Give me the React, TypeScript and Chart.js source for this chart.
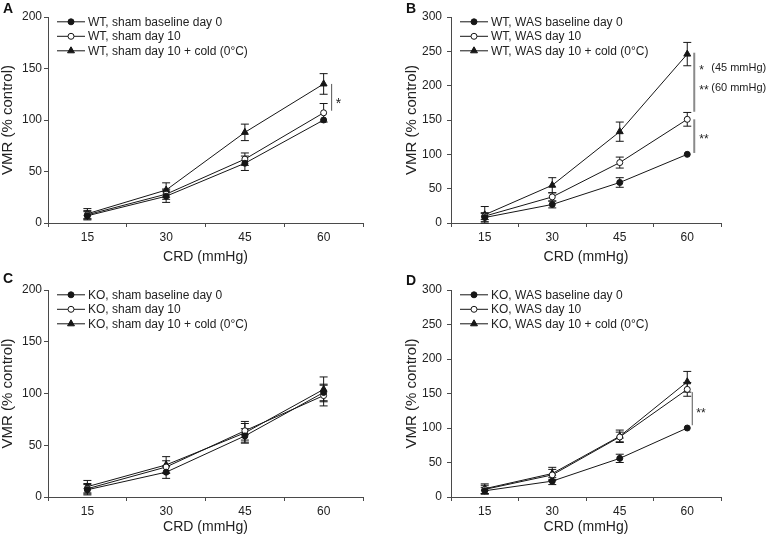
import React, { useEffect, useRef } from 'react';
import { Chart, registerables } from 'chart.js';

Chart.register(...registerables);

// ---------- data ----------
const categories = ['15', '30', '45', '60'];

const labelsA = ['WT, sham baseline day 0', 'WT, sham day 10', 'WT, sham day 10 + cold (0°C)'];
const baselineA = [7, 26, 58, 100];
const baselineErrA = [4, 6, 7, 0];
const day10A = [8, 28, 62, 107];
const day10ErrA = [4, 5, 6, 9];
const coldA = [9, 32, 88, 135];
const coldErrA = [5, 7, 8, 10];

const labelsB = ['WT, WAS baseline day 0', 'WT, WAS day 10', 'WT, WAS day 10 + cold (0°C)'];
const baselineB = [8, 27, 59, 100];
const baselineErrB = [6, 5, 7, 0];
const day10B = [10, 38, 88, 151];
const day10ErrB = [5, 6, 8, 10];
const coldB = [12, 55, 133, 246];
const coldErrB = [12, 11, 14, 17];

const labelsC = ['KO, sham baseline day 0', 'KO, sham day 10', 'KO, sham day 10 + cold (0°C)'];
const baselineC = [7, 24, 59, 101];
const baselineErrC = [5, 6, 7, 8];
const day10C = [8, 29, 64, 98];
const day10ErrC = [5, 6, 9, 10];
const coldC = [10, 31, 62, 104];
const coldErrC = [6, 8, 9, 12];

const labelsD = ['KO, WAS baseline day 0', 'KO, WAS day 10', 'KO, WAS day 10 + cold (0°C)'];
const baselineD = [9, 23, 56, 100];
const baselineErrD = [5, 5, 6, 0];
const day10D = [11, 32, 87, 156];
const day10ErrD = [6, 8, 7, 10];
const coldD = [12, 34, 88, 167];
const coldErrD = [7, 9, 9, 15];

// significance brackets (value ranges on y) and their marks
const bracketsA = [{ from: 109, to: 135 }];
const notesA = [{ value: 119, stars: '*', note: '' }];
const bracketsB = [{ from: 162, to: 248 }, { from: 102, to: 151 }];
const notesB = [
  { value: 227, stars: '*', note: '(45 mmHg)' },
  { value: 198, stars: '**', note: '(60 mmHg)' },
  { value: 127, stars: '**', note: '' },
];
const bracketsC: { from: number; to: number }[] = [];
const notesC: { value: number; stars: string; note: string }[] = [];
const bracketsD = [{ from: 104, to: 152 }];
const notesD = [{ value: 126, stars: '**', note: '' }];

const yTicksSmall = [0, 50, 100, 150, 200];
const yTicksLarge = [0, 50, 100, 150, 200, 250, 300];

// ---------- styling ----------
const FONT = '"Liberation Sans", Arial, Helvetica, sans-serif';
const INK = '#161616';
const AXIS = '#4a4a4a';
const TEXT = '#222';
const MARKERS = ['filled', 'open', 'triangle'];

type Series = { label: string; values: number[]; err: number[] };
type PanelCfg = {
  letter: string;
  left: number;
  top: number;
  width: number;
  height: number;
  area: { l: number; r: number; t: number; b: number };
  yTicks: number[];
  yTitlePad: number;
  yTickPad: number;
  xTitlePad: number;
  letterPos: [number, number];
  series: Series[];
  brackets: { from: number; to: number }[];
  notes: { value: number; stars: string; note: string }[];
  bracketStyle: { color: string; width: number; lineDx: number; starDx: number; noteDx: number; starSize: number };
};

function drawMarker(ctx: CanvasRenderingContext2D, kind: string, x: number, y: number) {
  ctx.save();
  ctx.lineWidth = 1;
  ctx.strokeStyle = INK;
  ctx.beginPath();
  if (kind === 'triangle') {
    const r = 4;
    ctx.moveTo(x, y - r);
    ctx.lineTo(x + 0.866 * r, y + 0.5 * r);
    ctx.lineTo(x - 0.866 * r, y + 0.5 * r);
    ctx.closePath();
    ctx.fillStyle = INK;
  } else {
    ctx.arc(x, y, 3, 0, Math.PI * 2);
    ctx.fillStyle = kind === 'open' ? '#fff' : INK;
  }
  ctx.fill();
  ctx.stroke();
  ctx.restore();
}

function makePlugin(cfg: PanelCfg) {
  return {
    id: 'panelExtras',
    beforeDatasetsDraw(chart: any) {
      const ctx: CanvasRenderingContext2D = chart.ctx;
      const ys = chart.scales.y;
      ctx.save();
      ctx.strokeStyle = INK;
      ctx.lineWidth = 1;
      cfg.series.forEach((s, i) => {
        const meta = chart.getDatasetMeta(i);
        s.err.forEach((e, j) => {
          if (!e) return;
          const pt = meta.data[j];
          const x = pt.x;
          const yt = ys.getPixelForValue(s.values[j] + e);
          const yb = ys.getPixelForValue(s.values[j] - e);
          ctx.beginPath();
          ctx.moveTo(x, yt);
          ctx.lineTo(x, yb);
          ctx.moveTo(x - 4, yt);
          ctx.lineTo(x + 4, yt);
          ctx.moveTo(x - 4, yb);
          ctx.lineTo(x + 4, yb);
          ctx.stroke();
        });
      });
      ctx.restore();
    },
    afterDraw(chart: any) {
      const ctx: CanvasRenderingContext2D = chart.ctx;
      const area = chart.chartArea;
      const ys = chart.scales.y;
      const xs = chart.scales.x;
      // legend
      ctx.save();
      cfg.series.forEach((s, i) => {
        const y = area.top + 4.8 + i * 14.5;
        const x0 = area.left + 9;
        ctx.strokeStyle = INK;
        ctx.lineWidth = 1;
        ctx.beginPath();
        ctx.moveTo(x0, y);
        ctx.lineTo(x0 + 28, y);
        ctx.stroke();
        drawMarker(ctx, MARKERS[i], x0 + 14, y);
        ctx.fillStyle = TEXT;
        ctx.font = `12px ${FONT}`;
        ctx.textAlign = 'left';
        ctx.textBaseline = 'middle';
        ctx.fillText(s.label, area.left + 40, y + 0.5);
      });
      // brackets
      const xLast = xs.getPixelForValue(categories.length - 1);
      const bs = cfg.bracketStyle;
      cfg.brackets.forEach((b) => {
        ctx.strokeStyle = bs.color;
        ctx.lineWidth = bs.width;
        ctx.beginPath();
        ctx.moveTo(xLast + bs.lineDx, ys.getPixelForValue(b.from));
        ctx.lineTo(xLast + bs.lineDx, ys.getPixelForValue(b.to));
        ctx.stroke();
      });
      cfg.notes.forEach((n) => {
        const py = ys.getPixelForValue(n.value);
        ctx.fillStyle = TEXT;
        ctx.textAlign = 'left';
        ctx.textBaseline = 'alphabetic';
        ctx.font = `${bs.starSize}px ${FONT}`;
        ctx.fillText(n.stars, xLast + bs.starDx, py + 0.57 * bs.starSize);
        if (n.note) {
          ctx.font = `11px ${FONT}`;
          ctx.textBaseline = 'middle';
          ctx.fillText(n.note, xLast + bs.noteDx, py + 0.5);
        }
      });
      // panel letter
      ctx.fillStyle = '#111';
      ctx.font = `bold 14px ${FONT}`;
      ctx.textAlign = 'left';
      ctx.textBaseline = 'alphabetic';
      ctx.fillText(cfg.letter, cfg.letterPos[0], cfg.letterPos[1]);
      ctx.restore();
    },
  };
}

function Panel({ cfg }: { cfg: PanelCfg }) {
  const ref = useRef<HTMLCanvasElement>(null);
  useEffect(() => {
    if (!ref.current) return;
    const yMax = cfg.yTicks[cfg.yTicks.length - 1];
    const datasets = cfg.series.map((s, i) => ({
      label: s.label,
      data: s.values,
      borderColor: INK,
      borderWidth: 1,
      backgroundColor: MARKERS[i] === 'open' ? '#fff' : INK,
      pointBackgroundColor: MARKERS[i] === 'open' ? '#fff' : INK,
      pointBorderColor: INK,
      pointBorderWidth: 1,
      pointStyle: MARKERS[i] === 'triangle' ? 'triangle' : 'circle',
      pointRadius: MARKERS[i] === 'triangle' ? 4 : 3,
      tension: 0,
      fill: false,
    }));
    const chart = new Chart(ref.current, {
      type: 'line',
      data: { labels: categories, datasets },
      options: {
        animation: false,
        responsive: false,
        devicePixelRatio: 1,
        events: [],
        layout: {
          padding: { left: 0, top: cfg.area.t, right: cfg.width - cfg.area.r, bottom: 0 },
        },
        plugins: { legend: { display: false }, tooltip: { enabled: false }, title: { display: false } },
        scales: {
          x: {
            type: 'category',
            offset: true,
            grid: {
              display: true,
              drawOnChartArea: false,
              drawTicks: true,
              tickLength: 4,
              color: AXIS,
              offset: true,
            },
            border: { display: true, color: AXIS, width: 1 },
            ticks: { color: TEXT, font: { family: FONT, size: 12 }, padding: 3 },
            title: {
              display: true,
              text: 'CRD (mmHg)',
              color: TEXT,
              font: { family: FONT, size: 14 },
              padding: { top: 0, bottom: cfg.xTitlePad },
            },
            afterFit: (scale: any) => {
              scale.height = cfg.height - cfg.area.b;
            },
          },
          y: {
            type: 'linear',
            min: 0,
            max: yMax,
            afterBuildTicks: (scale: any) => {
              scale.ticks = cfg.yTicks.map((v) => ({ value: v }));
            },
            grid: {
              display: true,
              drawOnChartArea: false,
              drawTicks: true,
              tickLength: 4,
              color: AXIS,
            },
            border: { display: true, color: AXIS, width: 1 },
            ticks: { color: TEXT, font: { family: FONT, size: 12 }, padding: cfg.yTickPad },
            title: {
              display: true,
              text: 'VMR (% control)',
              color: TEXT,
              font: { family: FONT, size: 15 },
              padding: { top: cfg.yTitlePad, bottom: 0 },
            },
            afterFit: (scale: any) => {
              scale.width = cfg.area.l;
            },
          },
        },
      },
      plugins: [makePlugin(cfg)],
    } as any);
    return () => chart.destroy();
  }, [cfg]);
  return (
    <div style={{ position: 'absolute', left: cfg.left, top: cfg.top, width: cfg.width, height: cfg.height }}>
      <canvas ref={ref} width={cfg.width} height={cfg.height} style={{ display: 'block' }} />
    </div>
  );
}

const mk = (labels: string[], v: number[][], e: number[][]): Series[] =>
  labels.map((label, i) => ({ label, values: v[i], err: e[i] }));

const panels: PanelCfg[] = [
  {
    letter: 'A',
    left: 0,
    top: 0,
    width: 384,
    height: 268,
    area: { l: 48, r: 363, t: 17, b: 223 },
    yTicks: yTicksSmall,
    yTitlePad: -1,
    yTickPad: 2,
    xTitlePad: 2.6,
    letterPos: [3, 13],
    series: mk(labelsA, [baselineA, day10A, coldA], [baselineErrA, day10ErrA, coldErrA]),
    brackets: bracketsA,
    notes: notesA,
    bracketStyle: { color: '#555', width: 1, lineDx: 8, starDx: 12, noteDx: 24, starSize: 14 },
  },
  {
    letter: 'B',
    left: 384,
    top: 0,
    width: 384,
    height: 268,
    area: { l: 67, r: 337, t: 17, b: 223 },
    yTicks: yTicksLarge,
    yTitlePad: 19,
    yTickPad: 5,
    xTitlePad: 2.6,
    letterPos: [22, 13],
    series: mk(labelsB, [baselineB, day10B, coldB], [baselineErrB, day10ErrB, coldErrB]),
    brackets: bracketsB,
    notes: notesB,
    bracketStyle: { color: '#8a8a8a', width: 2, lineDx: 7, starDx: 12, noteDx: 24, starSize: 12 },
  },
  {
    letter: 'C',
    left: 0,
    top: 270,
    width: 384,
    height: 267,
    area: { l: 48, r: 363, t: 20, b: 227 },
    yTicks: yTicksSmall,
    yTitlePad: -1,
    yTickPad: 2,
    xTitlePad: 1.6,
    letterPos: [3, 13],
    series: mk(labelsC, [baselineC, day10C, coldC], [baselineErrC, day10ErrC, coldErrC]),
    brackets: bracketsC,
    notes: notesC,
    bracketStyle: { color: '#555', width: 1, lineDx: 8, starDx: 12, noteDx: 24, starSize: 12 },
  },
  {
    letter: 'D',
    left: 384,
    top: 270,
    width: 384,
    height: 267,
    area: { l: 67, r: 337, t: 20, b: 227 },
    yTicks: yTicksLarge,
    yTitlePad: 19,
    yTickPad: 5,
    xTitlePad: 1.6,
    letterPos: [22, 15],
    series: mk(labelsD, [baselineD, day10D, coldD], [baselineErrD, day10ErrD, coldErrD]),
    brackets: bracketsD,
    notes: notesD,
    bracketStyle: { color: '#555', width: 1, lineDx: 5, starDx: 9, noteDx: 24, starSize: 12 },
  },
];

export default function App() {
  return (
    <div style={{ position: 'absolute', left: 0, top: 0, width: 768, height: 537, background: '#fff' }}>
      {panels.map((p) => (
        <Panel key={p.letter} cfg={p} />
      ))}
    </div>
  );
}
